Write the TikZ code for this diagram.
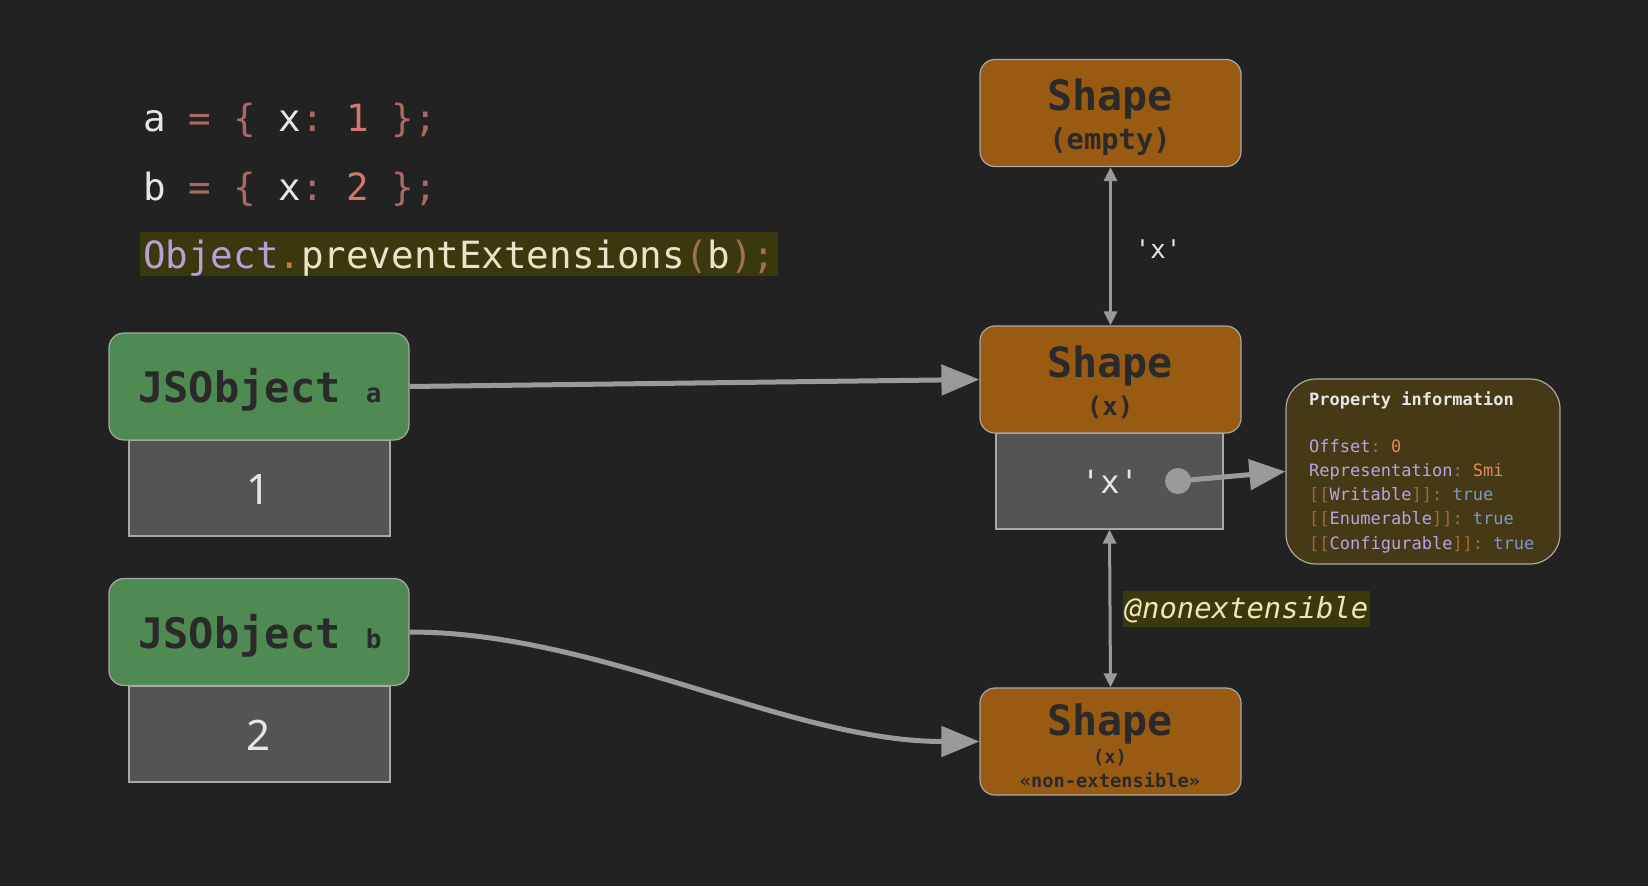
\documentclass[tikz,border=0pt]{standalone}
\usepackage{fontspec}
\setmainfont{Noto Sans}
\setmonofont{DejaVu Sans Mono}
\usetikzlibrary{arrows.meta}
\definecolor{bg}{HTML}{222222}
\definecolor{shapefill}{HTML}{995A12}
\definecolor{shapetext}{HTML}{2A2A2A}
\definecolor{greenfill}{HTML}{4E8A52}
\definecolor{grayfill}{HTML}{545454}
\definecolor{edgecol}{HTML}{A8A8A8}
\definecolor{arrowcol}{HTML}{9A9A9A}
\definecolor{cwhite}{HTML}{E6E6E6}
\definecolor{cop}{HTML}{A86A62}
\definecolor{cnum}{HTML}{D3766C}
\definecolor{cobj}{HTML}{B5A0DA}
\definecolor{cdot}{HTML}{C07A40}
\definecolor{cfn}{HTML}{E8E4C8}
\definecolor{cpar}{HTML}{A0704A}
\definecolor{hl}{HTML}{3A390E}
\definecolor{infofill}{HTML}{463915}
\definecolor{ipurple}{HTML}{B9A3E3}
\definecolor{icolon}{HTML}{8A7A60}
\definecolor{iorange}{HTML}{E08A5A}
\definecolor{ibrack}{HTML}{9A6A3A}
\definecolor{iblue}{HTML}{7C97CF}
\definecolor{annot}{HTML}{EDE8B0}
\begin{document}
\begin{tikzpicture}[x=1pt,y=-1pt,
  shapebox/.style={draw=edgecol, line width=1.2pt, fill=shapefill, rounded corners=15pt,
    minimum width=261pt, minimum height=107pt, inner sep=0pt},
  objbox/.style={draw=edgecol, line width=1.2pt, fill=greenfill, rounded corners=15pt,
    minimum width=300pt, minimum height=107pt, inner sep=0pt},
  valbox/.style={draw=edgecol, line width=1.2pt, fill=grayfill,
    minimum width=261pt, minimum height=96pt, inner sep=0pt},
  code/.style={text=cwhite, font=\fontsize{37.5}{40}\selectfont\ttfamily, inner sep=0pt},
  shapetitle/.style={text=shapetext, font=\fontsize{41.7}{44}\selectfont\ttfamily\bfseries, inner sep=0pt},
  shapesub/.style={text=shapetext, font=\fontsize{25.7}{28}\selectfont\ttfamily\bfseries, inner sep=0pt},
  shapesmall/.style={text=shapetext, font=\fontsize{18.7}{20}\selectfont\ttfamily\bfseries, inner sep=0pt},
  infotext/.style={font=\fontsize{17}{19}\selectfont\ttfamily, inner sep=0pt, anchor=base west},
  bigarrow/.style={draw=arrowcol, line width=5pt, -{Triangle[length=38pt, width=30pt]}},
  smallarrow/.style={draw=arrowcol, line width=3pt, {Triangle[length=14pt, width=13pt]}-{Triangle[length=14pt, width=13pt]}}
]
\useasboundingbox (0,0) rectangle (1648,886);
\fill[bg] (0,0) rectangle (1648,886);

% code
\node[code, anchor=base west] (la) at (143,131) {a {\color{cop}= \{} x{\color{cop}:} {\color{cnum}1} {\color{cop}\};}};
\node[code, anchor=base west] (lb) at (143,200) {b {\color{cop}= \{} x{\color{cop}:} {\color{cnum}2} {\color{cop}\};}};
\node[code, anchor=base west, fill=hl, inner xsep=3pt, inner ysep=2pt, text height=34pt, text depth=6pt] (lc) at (140,268)
  {{\color{cobj}Object}{\color{cdot}.}{\color{cfn}preventExtensions}{\color{cpar}(}{\color{cfn}b}{\color{cpar});}};

% shapes
\node[shapebox] (se) at (1110.5,113) {};
\node[shapetitle] (set) at (1110,99) {Shape};
\node[shapesub, font=\fontsize{28.8}{30}\selectfont\ttfamily\bfseries] (ses) at (1110,142) {(empty)};

\node[valbox, minimum width=227pt] (xb) at (1109.5,481) {};
\node[shapebox] (sx) at (1110.5,379.5) {};
\node[shapetitle] (sxt) at (1110,366) {Shape};
\node[shapesub] (sxs) at (1110,407) {(x)};
\node[text=cwhite, font=\fontsize{32}{34}\selectfont\ttfamily, inner sep=0pt] (xt) at (1110,482) {\textquotesingle x\textquotesingle};
\node[circle, fill=arrowcol, minimum size=26pt, inner sep=0pt] (dot) at (1178,481) {};

\node[shapebox] (sn) at (1110.5,741.5) {};
\node[shapetitle] (snt) at (1110,724) {Shape};
\node[shapesmall] (sns) at (1110,758) {(x)};
\node[shapesmall] (snn) at (1110,780) {«non-extensible»};

% objects
\node[valbox] (va) at (259.5,488) {};
\node[objbox] (ja) at (259,386.5) {};
\node[text=shapetext, font=\fontsize{42}{44}\selectfont\ttfamily\bfseries, inner sep=0pt, anchor=base] (jat) at (260,402) {JSObject {\fontsize{26}{28}\selectfont a}};
\node[text=cwhite, font=\fontsize{42}{44}\selectfont, inner sep=0pt] (vat) at (259,489) {1};

\node[valbox] (vb) at (259.5,734) {};
\node[objbox] (jb) at (259,632) {};
\node[text=shapetext, font=\fontsize{42}{44}\selectfont\ttfamily\bfseries, inner sep=0pt, anchor=base] (jbt) at (260,648) {JSObject {\fontsize{26}{28}\selectfont b}};
\node[text=cwhite, font=\fontsize{42}{44}\selectfont, inner sep=0pt] (vbt) at (259,735) {2};

% property info
\node[draw=edgecol, line width=1.2pt, fill=infofill, rounded corners=30pt,
  minimum width=274pt, minimum height=185pt, inner sep=0pt] (pi) at (1423,471.5) {};
\node[infotext, text=cwhite, font=\fontsize{17}{19}\selectfont\ttfamily\bfseries] (p0) at (1309,405) {Property information};
\node[infotext] (p1) at (1309,452) {{\color{ipurple}Offset}{\color{icolon}:} {\color{iorange}0}};
\node[infotext] (p2) at (1309,476) {{\color{ipurple}Representation}{\color{icolon}:} {\color{iorange}Smi}};
\node[infotext] (p3) at (1309,500) {{\color{ibrack}[[}{\color{ipurple}Writable}{\color{ibrack}]]}{\color{icolon}:} {\color{iblue}true}};
\node[infotext] (p4) at (1309,524) {{\color{ibrack}[[}{\color{ipurple}Enumerable}{\color{ibrack}]]}{\color{icolon}:} {\color{iblue}true}};
\node[infotext] (p5) at (1309,549) {{\color{ibrack}[[}{\color{ipurple}Configurable}{\color{ibrack}]]}{\color{icolon}:} {\color{iblue}true}};

% labels
\node[text=cwhite, font=\fontsize{25.7}{28}\selectfont\ttfamily, inner sep=0pt] (lx) at (1158,249) {\textquotesingle x\textquotesingle};
\node[fill=hl, text=annot, font=\fontsize{28.9}{30}\selectfont\ttfamily\itshape, inner xsep=2pt, inner ysep=3pt, text height=24pt, text depth=6pt] (ne) at (1246.5,609) {@nonextensible};

% connectors
\draw[smallarrow] (se.south) -- (sx.north);
\draw[smallarrow] (xb.south) -- (sn.north);
\draw[bigarrow] (ja.east) -- (sx.west);
\draw[bigarrow] (jb.east) .. controls +(190,0) and +(-190,0) .. (sn.west);
\draw[draw=arrowcol, line width=5pt, -{Triangle[length=36pt, width=30pt]}] (dot.center) -- (pi.west);
\end{tikzpicture}
\end{document}
